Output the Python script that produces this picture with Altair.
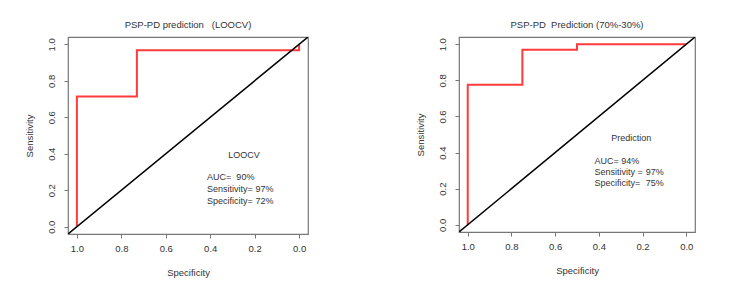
import altair as alt
import pandas as pd

NB = "\u00a0"

# ROC step curves (specificity, sensitivity)
loocv_spec = [1.0, 1.0, 0.73, 0.73, 0.0, 0.0]
loocv_sens = [0.0, 0.714, 0.714, 0.967, 0.967, 1.0]
pred_spec = [1.0, 1.0, 0.75, 0.75, 0.5, 0.5, 0.0]
pred_sens = [0.0, 0.775, 0.775, 0.97, 0.97, 1.0, 1.0]

diag_spec = [1.2, -0.2]
diag_sens = [1 - v for v in diag_spec]

ticks = [1.0, 0.8, 0.6, 0.4, 0.2, 0.0]

titles = ["PSP-PD prediction" + NB * 3 + "(LOOCV)", "PSP-PD" + NB * 2 + "Prediction (70%-30%)"]

loocv_text = ["LOOCV", "AUC=" + NB * 2 + "90%", "Sensitivity= 97%", "Specificity= 72%"]
loocv_tx = [0.248, 0.414, 0.414, 0.414]
loocv_ty = [0.394, 0.275, 0.205, 0.141]
loocv_align = ["center", "left", "left", "left"]

pred_text = ["Prediction", "AUC= 94%", "Sensitivity =", "97%", "Specificity=", "75%"]
pred_tx = [0.252, 0.42, 0.42, 0.185, 0.42, 0.185]
pred_ty = [0.478, 0.354, 0.291, 0.291, 0.232, 0.232]
pred_align = ["center", "left", "left", "left", "left", "left"]

FONT = "Liberation Sans"
TXT = "#333333"
GRAY = "#777777"


def panel(title, spec, sens, texts, tx, ty, aligns, w, h):
    xs = alt.Scale(domain=[1.04, -0.04], nice=False, zero=False)
    ys = alt.Scale(domain=[-0.04, 1.04], nice=False, zero=False)
    xax = alt.Axis(values=ticks, format=".1f", title="Specificity", grid=False,
                   domain=False, tickColor=GRAY, tickSize=4, labelPadding=5,
                   labelOverlap=False,
                   labelFontSize=9.5, labelColor=TXT, labelFont=FONT,
                   titleFont=FONT, titleFontSize=9.5, titleFontWeight="normal",
                   titleColor=TXT, titleX=w / 2, titleY=38, titleBaseline="middle")
    yax = alt.Axis(values=ticks, format=".1f", title="Sensitivity", grid=False,
                   domain=False, tickColor=GRAY, tickSize=4, labelPadding=8,
                   labelOverlap=False, labelFlush=False, labelBound=False,
                   labelAngle=270, labelAlign="center", labelBaseline="bottom",
                   labelFontSize=9.5, labelColor=TXT, labelFont=FONT,
                   titleFont=FONT, titleFontSize=9.5, titleFontWeight="normal",
                   titleColor=TXT, titleAngle=270, titleX=-39, titleY=h / 2,
                   titleBaseline="middle", titleAlign="center")

    curve_df = pd.DataFrame({"spec": spec, "sens": sens, "order": list(range(len(spec)))})
    diag_df = pd.DataFrame({"spec": diag_spec, "sens": diag_sens})
    text_df = pd.DataFrame({"t": texts, "x": tx, "y": ty, "a": aligns})

    curve = alt.Chart(curve_df).mark_line(color="#ff3b3b", strokeWidth=2, clip=True).encode(
        x=alt.X("spec:Q", scale=xs, axis=xax),
        y=alt.Y("sens:Q", scale=ys, axis=yax),
        order="order:Q",
    )
    diag = alt.Chart(diag_df).mark_line(color="black", strokeWidth=1.5, clip=True).encode(
        x=alt.X("spec:Q", scale=xs, axis=xax),
        y=alt.Y("sens:Q", scale=ys, axis=yax),
    )
    layers = [curve, diag]
    for al in ["left", "center"]:
        sub = text_df[text_df["a"] == al]
        layers.append(
            alt.Chart(sub).mark_text(align=al, baseline="middle", font=FONT,
                                     fontSize=9, color=TXT).encode(
                x=alt.X("x:Q", scale=xs, axis=xax), y=alt.Y("y:Q", scale=ys, axis=yax),
                text="t:N")
        )
    return alt.layer(*layers).properties(
        width=w, height=h,
        title=alt.TitleParams(title, font=FONT, fontSize=9.5, fontWeight="normal",
                              color=TXT, offset=8, anchor="middle"),
    )


left = panel(titles[0], loocv_spec, loocv_sens, loocv_text, loocv_tx, loocv_ty, loocv_align, 240, 197)
right = panel(titles[1], pred_spec, pred_sens, pred_text, pred_tx, pred_ty, pred_align, 236, 195)

chart = alt.hconcat(left, right, spacing=105).properties(
    padding={"left": 23, "top": 18, "right": 5, "bottom": 5},
    background="white",
).configure_view(stroke=GRAY, strokeWidth=1.2).configure_axisY(labelOverlap=False)

chart.save("out.html", embed_options={"renderer": "svg", "actions": False})
